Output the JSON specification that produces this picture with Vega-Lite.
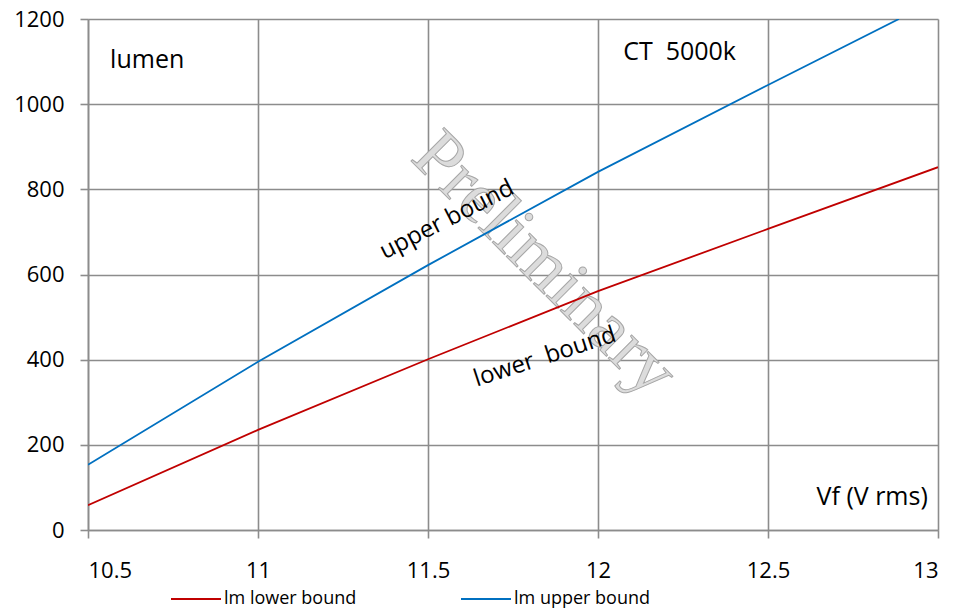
{
  "$schema": "https://vega.github.io/schema/vega-lite/v6.json",
  "width": 850,
  "height": 511,
  "padding": {"left": 88, "top": 19, "right": 17, "bottom": 82},
  "autosize": {"type": "none"},
  "background": "white",
  "config": {
    "view": {"stroke": null},
    "font": "Open Sans",
    "axis": {
      "grid": true,
      "gridColor": "#8c8c8c",
      "gridWidth": 1.6,
      "domainColor": "#8c8c8c",
      "domainWidth": 1.6,
      "tickColor": "#8c8c8c",
      "tickWidth": 1.6,
      "tickSize": 8,
      "labelFont": "Open Sans",
      "labelFontSize": 22,
      "labelColor": "#000000",
      "title": null
    }
  },
  "datasets": {
    "lines": [
      {"v": 10.5, "lm": 58, "series": "lm lower bound"},
      {"v": 11.0, "lm": 235, "series": "lm lower bound"},
      {"v": 11.5, "lm": 401, "series": "lm lower bound"},
      {"v": 12.0, "lm": 561, "series": "lm lower bound"},
      {"v": 12.5, "lm": 707, "series": "lm lower bound"},
      {"v": 13.0, "lm": 852, "series": "lm lower bound"},
      {"v": 10.5, "lm": 153, "series": "lm upper bound"},
      {"v": 11.0, "lm": 395, "series": "lm upper bound"},
      {"v": 11.5, "lm": 622, "series": "lm upper bound"},
      {"v": 12.0, "lm": 841, "series": "lm upper bound"},
      {"v": 12.5, "lm": 1045, "series": "lm upper bound"},
      {"v": 12.885, "lm": 1200, "series": "lm upper bound"}
    ],
    "leftLabels": [
      {"v": 10.565, "lm": 1104, "text": "lumen"},
      {"v": 12.074, "lm": 1122, "text": "CT\u00a0\u00a05000k"}
    ],
    "rightLabels": [
      {"v": 12.97, "lm": 77, "text": "Vf (V rms)"}
    ]
  },
  "layer": [
    {
      "data": {"values": [{"v": 11.844, "lm": 625, "text": "Preliminary"}]},
      "mark": {"type": "text", "font": "Liberation Serif", "fontSize": 72, "angle": 45, "fill": "#dcdcdc", "stroke": "#a6a6a6", "strokeWidth": 1, "align": "center", "baseline": "middle"},
      "encoding": {
        "x": {"field": "v", "type": "quantitative", "scale": {"domain": [10.5, 13]}},
        "y": {"field": "lm", "type": "quantitative", "scale": {"domain": [0, 1200]}},
        "text": {"field": "text"}
      }
    },
    {
      "data": {"name": "lines"},
      "mark": {"type": "line", "strokeWidth": 1.8, "clip": true},
      "encoding": {
        "x": {"field": "v", "type": "quantitative", "scale": {"domain": [10.5, 13], "nice": false, "zero": false}, "axis": {"values": [10.5, 11, 11.5, 12, 12.5, 13], "labelPadding": 22, "format": "~g"}},
        "y": {"field": "lm", "type": "quantitative", "scale": {"domain": [0, 1200], "nice": false}, "axis": {"values": [0, 200, 400, 600, 800, 1000, 1200], "labelPadding": 16, "format": "d"}},
        "color": {
          "field": "series",
          "type": "nominal",
          "scale": {"domain": ["lm lower bound", "lm upper bound"], "range": ["#c00000", "#0070c0"]},
          "legend": {
            "title": null,
            "orient": "none",
            "direction": "horizontal",
            "legendX": 82,
            "legendY": 554,
            "symbolType": "stroke",
            "symbolSize": 2500,
            "symbolStrokeWidth": 2,
            "labelFont": "Open Sans",
            "labelFontSize": 18,
            "labelColor": "#000000",
            "labelOffset": 2,
            "labelLimit": 300,
            "rowPadding": 0,
            "columnPadding": 100
          }
        }
      }
    },
    {
      "data": {"name": "leftLabels"},
      "mark": {"type": "text", "fontSize": 25, "align": "left", "baseline": "middle", "color": "#000000"},
      "encoding": {
        "x": {"field": "v", "type": "quantitative"},
        "y": {"field": "lm", "type": "quantitative"},
        "text": {"field": "text"}
      }
    },
    {
      "data": {"name": "rightLabels"},
      "mark": {"type": "text", "fontSize": 25, "align": "right", "baseline": "middle", "color": "#000000"},
      "encoding": {
        "x": {"field": "v", "type": "quantitative"},
        "y": {"field": "lm", "type": "quantitative"},
        "text": {"field": "text"}
      }
    },
    {
      "data": {"values": [{"v": 11.556, "lm": 728, "text": "upper bound"}]},
      "mark": {"type": "text", "fontSize": 24, "angle": 333, "align": "center", "baseline": "middle", "color": "#000000"},
      "encoding": {
        "x": {"field": "v", "type": "quantitative"},
        "y": {"field": "lm", "type": "quantitative"},
        "text": {"field": "text"}
      }
    },
    {
      "data": {"values": [{"v": 11.844, "lm": 406, "text": "lower\u00a0\u00a0bound"}]},
      "mark": {"type": "text", "fontSize": 24, "angle": 342, "align": "center", "baseline": "middle", "color": "#000000"},
      "encoding": {
        "x": {"field": "v", "type": "quantitative"},
        "y": {"field": "lm", "type": "quantitative"},
        "text": {"field": "text"}
      }
    }
  ]
}
